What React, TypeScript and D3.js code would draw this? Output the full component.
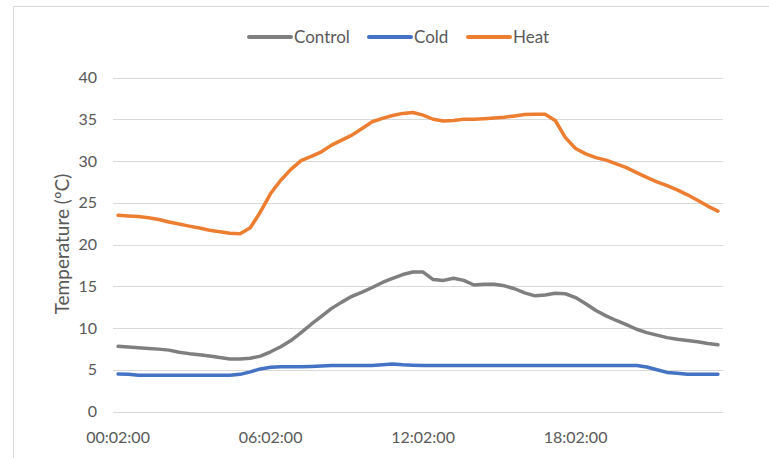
import React from "react";
import * as d3 from "d3";

const categories: string[] = [
  "00:02:00","00:26:00","00:50:00","01:14:00","01:38:00",
  "02:02:00","02:26:00","02:50:00","03:14:00","03:38:00",
  "04:02:00","04:26:00","04:50:00","05:14:00","05:38:00",
  "06:02:00","06:26:00","06:50:00","07:14:00","07:38:00",
  "08:02:00","08:26:00","08:50:00","09:14:00","09:38:00",
  "10:02:00","10:26:00","10:50:00","11:14:00","11:38:00",
  "12:02:00","12:26:00","12:50:00","13:14:00","13:38:00",
  "14:02:00","14:26:00","14:50:00","15:14:00","15:38:00",
  "16:02:00","16:26:00","16:50:00","17:14:00","17:38:00",
  "18:02:00","18:26:00","18:50:00","19:14:00","19:38:00",
  "20:02:00","20:26:00","20:50:00","21:14:00","21:38:00",
  "22:02:00","22:26:00","22:50:00","23:14:00","23:38:00",
];

const control: number[] = [
  7.8, 7.72, 7.64, 7.55, 7.47, 7.35, 7.1, 6.93, 6.8, 6.65,
  6.48, 6.3, 6.3, 6.38, 6.63, 7.15, 7.75, 8.5, 9.45, 10.45,
  11.4, 12.35, 13.1, 13.8, 14.3, 14.85, 15.45, 15.95, 16.4, 16.7,
  16.7, 15.8, 15.7, 15.95, 15.7, 15.15, 15.25, 15.25, 15.05, 14.7,
  14.2, 13.85, 13.95, 14.17, 14.1, 13.65, 12.9, 12.1, 11.45, 10.9,
  10.4, 9.85, 9.45, 9.15, 8.85, 8.65, 8.5, 8.35, 8.15, 8.0,
];

const cold: number[] = [
  4.5, 4.45, 4.35, 4.35, 4.35, 4.35, 4.35, 4.35, 4.35, 4.35,
  4.35, 4.35, 4.45, 4.75, 5.1, 5.3, 5.35, 5.35, 5.35, 5.4,
  5.45, 5.5, 5.5, 5.5, 5.5, 5.5, 5.6, 5.7, 5.6, 5.55,
  5.5, 5.5, 5.5, 5.5, 5.5, 5.5, 5.5, 5.5, 5.5, 5.5,
  5.5, 5.5, 5.5, 5.5, 5.5, 5.5, 5.5, 5.5, 5.5, 5.5,
  5.5, 5.5, 5.33, 5.0, 4.68, 4.57, 4.47, 4.45, 4.45, 4.45,
];

const heat: number[] = [
  23.5, 23.42, 23.34, 23.2, 23.0, 22.7, 22.45, 22.2, 21.97, 21.7,
  21.53, 21.36, 21.3, 22.0, 23.9, 26.1, 27.7, 29.0, 30.05, 30.55,
  31.1, 31.9, 32.5, 33.1, 33.9, 34.7, 35.1, 35.45, 35.7, 35.8,
  35.5, 35.0, 34.8, 34.85, 35.0, 35.0, 35.07, 35.16, 35.25, 35.4,
  35.57, 35.6, 35.6, 34.85, 32.8, 31.5, 30.85, 30.4, 30.1, 29.65,
  29.2, 28.6, 28.05, 27.5, 27.05, 26.55, 25.95, 25.3, 24.6, 24.0,
];

const xTickLabels: string[] = ["00:02:00", "06:02:00", "12:02:00", "18:02:00"];
const yTicks: number[] = [0, 5, 10, 15, 20, 25, 30, 35, 40];
const seriesNames: string[] = ["Control", "Cold", "Heat"];
const seriesColors: string[] = ["#7f7f7f", "#4472c4", "#ed7d31"];

const W = 769;
const H = 458;
const FONT = "Lato, 'Open Sans', sans-serif";
const TEXT = "#595959";

export default function App() {
  const x = d3.scalePoint<string>().domain(categories).range([113, 723]).padding(0.5);
  const y = d3.scaleLinear().domain([0, 40]).range([411.5, 77.5]);
  const series = [control, cold, heat];
  const line = d3
    .line<number>()
    .x((_, i) => x(categories[i]) as number)
    .y((d) => y(d));

  const legendItems = [
    { name: seriesNames[0], color: seriesColors[0], x0: 249 },
    { name: seriesNames[1], color: seriesColors[1], x0: 369 },
    { name: seriesNames[2], color: seriesColors[2], x0: 468 },
  ];

  return (
    <svg
      width={W}
      height={H}
      style={{ position: "absolute", left: 0, top: 0, background: "#fff" }}
      fontFamily={FONT}
    >
      <rect x={13.5} y={6.5} width={W} height={H} fill="#fff" stroke="#d9d9d9" strokeWidth={1} />
      {yTicks.map((t) => (
        <g key={t}>
          <line x1={113} x2={723} y1={Math.round(y(t)) + 0.5} y2={Math.round(y(t)) + 0.5} stroke="#d9d9d9" strokeWidth={1} />
          <text x={97} y={y(t)} dy="0.35em" textAnchor="end" fontSize={16} fill={TEXT}>
            {t}
          </text>
        </g>
      ))}
      {xTickLabels.map((lab) => (
        <text key={lab} x={x(lab) as number} y={437} dy="0.35em" textAnchor="middle" fontSize={16} fill={TEXT}>
          {lab}
        </text>
      ))}
      <text
        transform={`translate(62,244) rotate(-90)`}
        textAnchor="middle"
        dy="0.35em"
        fontSize={19}
        fill={TEXT}
      >
        Temperature (ºC)
      </text>
      {series.map((s, k) => (
        <path
          key={k}
          d={line(s) || ""}
          fill="none"
          stroke={seriesColors[k]}
          strokeWidth={3.5}
          strokeLinejoin="round"
          strokeLinecap="round"
        />
      ))}
      {legendItems.map((it) => (
        <g key={it.name}>
          <line x1={it.x0} x2={it.x0 + 42} y1={37} y2={37} stroke={it.color} strokeWidth={4} strokeLinecap="round" />
          <text x={it.x0 + 45} y={37} dy="0.35em" fontSize={17} fill={TEXT}>
            {it.name}
          </text>
        </g>
      ))}
    </svg>
  );
}
